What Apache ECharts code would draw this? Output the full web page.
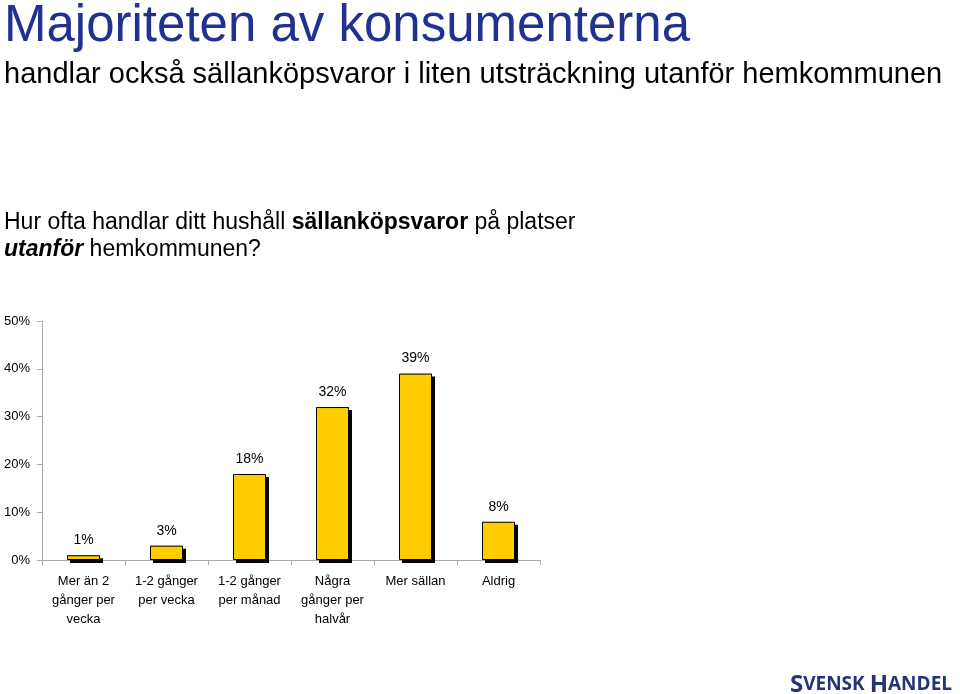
<!DOCTYPE html>
<html><head><meta charset="utf-8">
<script src="https://cdn.jsdelivr.net/npm/echarts@6/dist/echarts.min.js"></script>
<style>html,body{margin:0;padding:0;background:#fff}#c{width:960px;height:694px}</style>
</head><body><div id="c"></div>
<script>
const categories = ["Mer än 2\ngånger per\nvecka", "1-2 gånger\nper vecka", "1-2 gånger\nper månad", "Några\ngånger per\nhalvår", "Mer sällan", "Aldrig"];
const values = [1, 3, 18, 32, 39, 8];
const yTicks = [0, 10, 20, 30, 40, 50];

const F = '"Liberation Sans", Arial, sans-serif';
const chart = echarts.init(document.getElementById('c'));
chart.setOption({
  backgroundColor: '#fff',
  animation: false,
  textStyle: { fontFamily: F },
  title: [
    { text: 'Majoriteten av konsumenterna', left: -1, top: -4,
      textStyle: { fontFamily: F, fontSize: 51, fontWeight: 'normal', color: '#22308f' } },
    { text: 'handlar också sällanköpsvaror i liten utsträckning utanför hemkommunen', left: -1, top: 55,
      textStyle: { fontFamily: F, fontSize: 29, fontWeight: 'normal', color: '#000' } },
    { text: '{n|Hur ofta handlar ditt hushåll }{b|sällanköpsvaror}{n| på platser}\n{bi|utanför}{n| hemkommunen?}', left: -1, top: 204,
      textStyle: { fontWeight: 'normal', rich: {
        n: { fontFamily: F, fontSize: 23, color: '#000', fontWeight: 'normal', lineHeight: 27 },
        b: { fontFamily: F, fontSize: 23, color: '#000', fontWeight: 'bold', lineHeight: 27 },
        bi: { fontFamily: F, fontSize: 23, color: '#000', fontWeight: 'bold', fontStyle: 'italic', lineHeight: 27 }
      } } },
    { text: '{L|S}{s|VENSK }{L|H}{s|ANDEL}', right: 3, top: 668,
      textStyle: { rich: {
        L: { fontFamily: '"Open Sans", sans-serif', fontSize: 24, fontWeight: 'bold', color: '#253479' },
        s: { fontFamily: '"Open Sans", sans-serif', fontSize: 19, fontWeight: 'bold', color: '#253479' }
      } } }
  ],
  grid: { left: 42, top: 321, width: 498, bottom: 134, containLabel: false },
  xAxis: {
    type: 'category', data: categories,
    axisLine: { lineStyle: { color: '#aaa' } },
    axisTick: { show: true, length: 5, lineStyle: { color: '#aaa' } },
    axisLabel: { interval: 0, fontSize: 13, color: '#000', lineHeight: 19, margin: 12, fontFamily: F }
  },
  yAxis: {
    type: 'value', min: 0, max: 50, interval: 10,
    axisLine: { show: true, lineStyle: { color: '#aaa' } },
    axisTick: { show: true, length: 5, lineStyle: { color: '#aaa' } },
    splitLine: { show: false },
    axisLabel: { formatter: v => yTicks.includes(v) ? v + '%' : '', fontSize: 13, color: '#000', margin: 12, fontFamily: F }
  },
  series: [{
    type: 'bar', data: values, barWidth: 33, z: 2,
    itemStyle: { color: '#ffcc00', borderWidth: 0,
      shadowColor: '#000', shadowOffsetX: 3, shadowOffsetY: 3, shadowBlur: 0 }
  }, {
    type: 'bar', data: values, barWidth: 33, barGap: '-100%', z: 3,
    itemStyle: { color: 'rgba(0,0,0,0)', borderColor: '#000', borderWidth: 1 },
    label: { show: true, position: 'top', distance: 8, formatter: '{c}%', fontSize: 14, color: '#000', fontFamily: F }
  }]
});
</script></body></html>
